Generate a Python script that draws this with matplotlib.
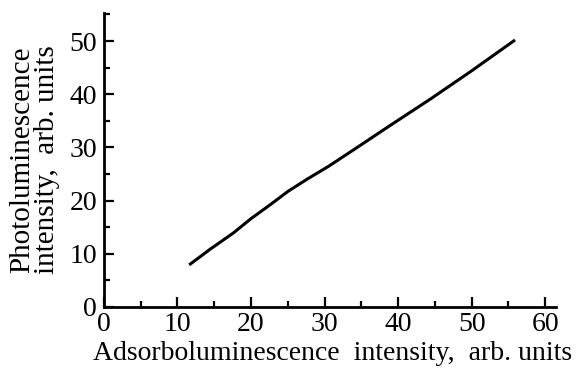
import matplotlib.pyplot as plt
from matplotlib.ticker import MultipleLocator

plt.rcParams['font.family'] = ['Liberation Serif', 'DejaVu Serif']

# Curve
adsorbo = [11.6, 14.5, 17.6, 20.0, 22.6, 25.0, 27.6, 30.5, 33.9, 39.0, 44.4, 50.0, 55.9]
photo = [7.9, 10.9, 13.9, 16.6, 19.2, 21.7, 24.0, 26.4, 29.5, 34.2, 39.1, 44.4, 50.2]

fig = plt.figure(figsize=(5.77, 3.68), dpi=100)
ax = fig.add_axes([0.180, 0.166, 0.784, 0.799])

ax.plot(adsorbo, photo, color='black', lw=2.2, solid_capstyle='butt',
        solid_joinstyle='round')

ax.set_xlim(0, 61.5)
ax.set_ylim(0, 55.3)
ax.spines['top'].set_visible(False)
ax.spines['right'].set_visible(False)
for s in ('left', 'bottom'):
    ax.spines[s].set_linewidth(2.0)

ax.xaxis.set_major_locator(MultipleLocator(10))
ax.xaxis.set_minor_locator(MultipleLocator(5))
ax.yaxis.set_major_locator(MultipleLocator(10))
ax.yaxis.set_minor_locator(MultipleLocator(5))
ax.tick_params(which='major', direction='in', length=7, width=1.6, labelsize=20)
ax.tick_params(axis='y', which='major', pad=5)
ax.tick_params(axis='x', which='major', pad=4)
ax.tick_params(which='minor', direction='in', length=4, width=1.6)

ax.set_xlabel('Adsorboluminescence  intensity,  arb. units', fontsize=20, va='center')
ax.xaxis.set_label_coords(0.505, -0.158)
ax.set_ylabel('Photoluminescence\nintensity,  arb. units', fontsize=21,
              linespacing=0.92, va='center')
ax.yaxis.set_label_coords(-0.153, 0.5)

fig.savefig('out.png', dpi=100)
